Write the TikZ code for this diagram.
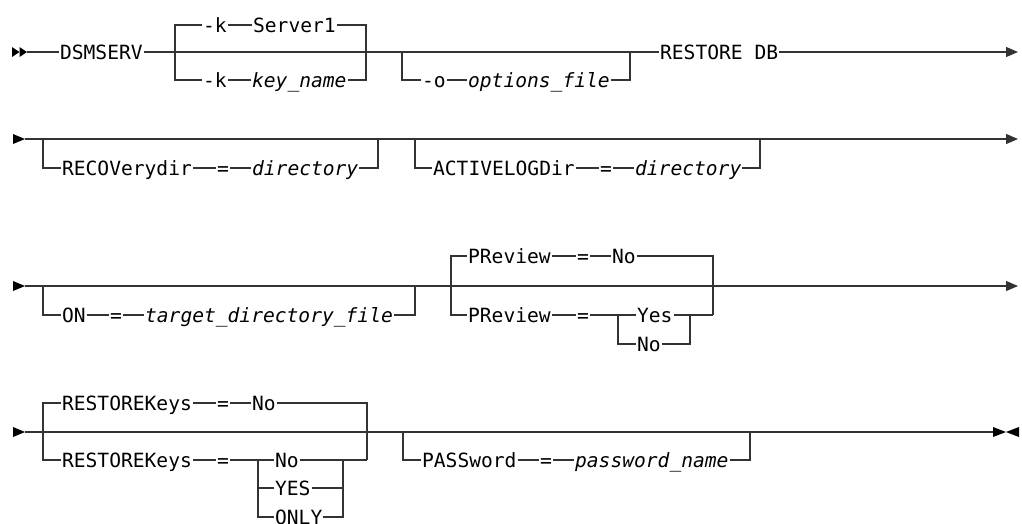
\documentclass[tikz,border=0pt]{standalone}
\usepackage{fontspec}
\setmainfont{DejaVu Sans Mono}
\usetikzlibrary{arrows.meta}
\definecolor{rail}{HTML}{333333}
\begin{document}
\begin{tikzpicture}[x=1pt,y=-1pt,
  kw/.style={anchor=west,inner xsep=0.5pt,inner ysep=0pt,text height=14.3pt,text depth=0pt,font=\fontsize{19.6}{22}\selectfont},
  var/.style={kw,font=\fontsize{19.6}{22}\selectfont\itshape},
  every path/.style={draw=rail,line width=1.2pt},
  endarrow/.style={-{Triangle[length=12pt,width=10pt]}},
  tipmark/.style={fill=black,draw=none}]
\useasboundingbox[draw=none,fill=white] (0,0) rectangle (1022,523);

% ---------------- Row 1 ----------------
\fill[tipmark] (12,47) -- (19.5,52) -- (12,57) -- cycle;
\fill[tipmark] (19.5,47) -- (27,52) -- (19.5,57) -- cycle;
\coordinate (s1) at (27,52);
\node[kw] (dsm) at (59,52) {DSMSERV};
\node[kw] (k1) at (202,25) {-k};
\node[kw] (srv) at (252,25) {Server1};
\node[kw] (k2) at (202,80) {-k};
\node[var] (kn) at (251,80) {key\_name};
\node[kw] (o) at (421,80) {-o};
\node[var] (of) at (467,80) {options\_file};
\node[kw] (rdb) at (659,52) {RESTORE DB};
\coordinate (e1) at (1018,52);
\coordinate (kL) at (175,80);
\coordinate (kR) at (366,80);
\coordinate (oL) at (402,52);
\coordinate (oR) at (630,52);

\draw (s1) -- (dsm.west);
\draw (dsm.east) -- (rdb.west);
\draw[endarrow] (rdb.east) -- (e1);
\draw (k1.west) -| (kL) -- (k2.west);
\draw (k1.east) -- (srv.west);
\draw (srv.east) -| (kR) -- (kn.east);
\draw (k2.east) -- (kn.west);
\draw (oL) |- (o.west);
\draw (o.east) -- (of.west);
\draw (of.east) -| (oR);

% ---------------- Row 2 ----------------
\fill[tipmark] (13,134) -- (25,139) -- (13,144) -- cycle;
\coordinate (s2) at (25,139);
\coordinate (e2) at (1018,139);
\node[kw] (rec) at (61,168) {RECOVerydir};
\node[kw] (eq1) at (216,168) {=};
\node[var] (dir1) at (251,168) {directory};
\node[kw] (act) at (432,168) {ACTIVELOGDir};
\node[kw] (eq2) at (599,168) {=};
\node[var] (dir2) at (634,168) {directory};
\coordinate (rL) at (43,139);
\coordinate (rR) at (378,139);
\coordinate (aL) at (415,139);
\coordinate (aR) at (760,139);

\draw[endarrow] (s2) -- (e2);
\draw (rL) |- (rec.west);
\draw (rec.east) -- (eq1.west);
\draw (eq1.east) -- (dir1.west);
\draw (dir1.east) -| (rR);
\draw (aL) |- (act.west);
\draw (act.east) -- (eq2.west);
\draw (eq2.east) -- (dir2.west);
\draw (dir2.east) -| (aR);

% ---------------- Row 3 ----------------
\fill[tipmark] (13,281) -- (25,286) -- (13,291) -- cycle;
\coordinate (s3) at (25,286);
\coordinate (e3) at (1018,286);
\node[kw] (on) at (61,315) {ON};
\node[kw] (eq3) at (109,315) {=};
\node[var] (tdf) at (144,315) {target\_directory\_file};
\node[kw] (pv1) at (467,256) {PReview};
\node[kw] (eq4) at (576,256) {=};
\node[kw] (no1) at (611,256) {No};
\node[kw] (pv2) at (467,315) {PReview};
\node[kw] (eq5) at (576,315) {=};
\node[kw] (yes1) at (636,315) {Yes};
\node[kw] (no2) at (636,344) {No};
\coordinate (oL3) at (43,286);
\coordinate (oR3) at (415,286);
\coordinate (pLb) at (451,315);
\coordinate (pR) at (713,315);
\coordinate (iL) at (618,315);
\coordinate (iR) at (690,315);

\draw[endarrow] (s3) -- (e3);
\draw (oL3) |- (on.west);
\draw (on.east) -- (eq3.west);
\draw (eq3.east) -- (tdf.west);
\draw (tdf.east) -| (oR3);
\draw (pv1.west) -| (pLb) -- (pv2.west);
\draw (pv1.east) -- (eq4.west);
\draw (eq4.east) -- (no1.west);
\draw (no1.east) -| (pR);
\draw (pv2.east) -- (eq5.west);
\draw (eq5.east) -- (iL) -- (yes1.west);
\draw (iL) |- (no2.west);
\draw (yes1.east) -- (iR) -- (pR);
\draw (no2.east) -| (iR);

% ---------------- Row 4 ----------------
\fill[tipmark] (13,427) -- (25,432) -- (13,437) -- cycle;
\coordinate (s4) at (25,432);
\coordinate (e4) at (993,432);
\fill[tipmark] (993,427) -- (1006,432) -- (993,437) -- cycle;
\fill[tipmark] (1019,427) -- (1006,432) -- (1019,437) -- cycle;
\node[kw] (rk1) at (61,403) {RESTOREKeys};
\node[kw] (eq6) at (216,403) {=};
\node[kw] (no3) at (251,403) {No};
\node[kw] (rk2) at (61,460) {RESTOREKeys};
\node[kw] (eq7) at (216,460) {=};
\node[kw] (no4) at (274,460) {No};
\node[kw] (yes2) at (274,488) {YES};
\node[kw] (only) at (274,517) {ONLY};
\node[kw] (pw) at (421,460) {PASSword};
\node[kw] (eq8) at (539,460) {=};
\node[var] (pwn) at (574,460) {password\_name};
\coordinate (rkL) at (43,460);
\coordinate (rkR) at (367,460);
\coordinate (jL) at (258,460);
\coordinate (jR) at (343,460);
\coordinate (pwL) at (403,432);
\coordinate (pwR) at (750,432);

\draw (s4) -- (e4);
\draw (rk1.west) -| (rkL) -- (rk2.west);
\draw (rk1.east) -- (eq6.west);
\draw (eq6.east) -- (no3.west);
\draw (no3.east) -| (rkR);
\draw (rk2.east) -- (eq7.west);
\draw (eq7.east) -- (jL) -- (no4.west);
\draw (jL) |- (yes2.west);
\draw (jL) |- (only.west);
\draw (no4.east) -- (jR) -- (rkR);
\draw (yes2.east) -| (jR);
\draw (only.east) -| (jR);
\draw (pwL) |- (pw.west);
\draw (pw.east) -- (eq8.west);
\draw (eq8.east) -- (pwn.west);
\draw (pwn.east) -| (pwR);
\end{tikzpicture}
\end{document}
